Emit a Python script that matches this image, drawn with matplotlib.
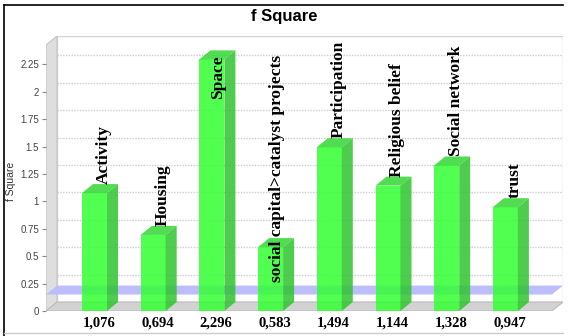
import matplotlib
matplotlib.use("Agg")
import matplotlib.pyplot as plt
from matplotlib.patches import Polygon, Rectangle
from matplotlib.lines import Line2D
import numpy as np

# ---- data ----
categories = ["Activity", "Housing", "Space", "social capital>catalyst projects",
              "Participation", "Religious belief", "Social network", "trust"]
f_square = [1.076, 0.694, 2.296, 0.583, 1.494, 1.144, 1.328, 0.947]
value_labels = ["1,076", "0,694", "2,296", "0,583", "1,494", "1,144", "1,328", "0,947"]
y_ticks = [0, 0.25, 0.5, 0.75, 1, 1.25, 1.5, 1.75, 2, 2.25]
y_tick_labels = ["0", "0.25", "0.5", "0.75", "1", "1.25", "1.5", "1.75", "2", "2.25"]
effect_marker = 0.15

W, H = 568, 336
fig = plt.figure(figsize=(W / 100, H / 100), dpi=100)
fig.patch.set_facecolor("white")

# plot box in pixels (front-left edge to back-right edge)
left_px, right_px, top_px, bottom_px = 46, 563, 36, 311
px_per_x = 58.7
px_per_y = 109.6
x_first_px = 94.5

ax = fig.add_axes([left_px / W, 1 - bottom_px / H,
                   (right_px - left_px) / W, (bottom_px - top_px) / H])
x0 = (left_px - x_first_px) / px_per_x
x1 = (right_px - x_first_px) / px_per_x
y1 = (bottom_px - top_px) / px_per_y
ax.set_xlim(x0, x1)
ax.set_ylim(0, y1)

# 3D depth offsets in data units
DX = 11 / px_per_x
DY = 9 / px_per_y
x1f = x1 - DX
y1f = y1 - DY

# walls
ax.add_patch(Polygon([(x0, 0), (x0, y1f), (x0 + DX, y1), (x0 + DX, DY)],
                     closed=True, facecolor="#dedede", edgecolor="#c4c4c4", lw=0.8, zorder=1))
ax.add_patch(Polygon([(x0, 0), (x1f, 0), (x1, DY), (x0 + DX, DY)],
                     closed=True, facecolor="#d2d2d2", edgecolor="#bcbcbc", lw=0.8, zorder=1))
ax.add_patch(Rectangle((x0 + DX, DY), x1 - x0 - DX, y1 - DY,
                       facecolor="white", edgecolor="#d4d4d4", lw=1.0, zorder=0.5))

# grid lines on the back wall
for v in y_ticks[1:]:
    ax.plot([x0 + DX, x1], [v + DY, v + DY], color="#cccccc", lw=1.0,
            linestyle=(0, (1, 1)), zorder=1.2)

# effect-size marker plane
ax.add_patch(Polygon([(x0, effect_marker), (x1f, effect_marker),
                      (x1, effect_marker + DY), (x0 + DX, effect_marker + DY)],
                     closed=True, facecolor="#bdbdfc", edgecolor="none", zorder=1.5))

# 3D bars
bw = 25 / px_per_x
alpha = 0.85
for i, v in enumerate(f_square):
    l, r = i - bw / 2, i + bw / 2
    ax.add_patch(Rectangle((l, 0), bw, v, facecolor="#33ff33", edgecolor="none",
                           alpha=alpha, zorder=3))
    ax.add_patch(Polygon([(r, 0), (r, v), (r + DX, v + DY), (r + DX, DY)], closed=True,
                         facecolor="#2fc42f", edgecolor="none", alpha=alpha, zorder=3))
    ax.add_patch(Polygon([(l, v), (r, v), (r + DX, v + DY), (l + DX, v + DY)], closed=True,
                         facecolor="#33d633", edgecolor="none", alpha=alpha, zorder=3))

# axes styling
for s in ax.spines.values():
    s.set_visible(False)
ax.set_xticks([])
ax.set_yticks(y_ticks)
ax.set_yticklabels(y_tick_labels)
ax.tick_params(axis="y", direction="out", length=3, width=0.8, color="#888888",
               labelsize=7, labelcolor="#444444", pad=2)
for t in ax.get_yticklabels():
    t.set_fontfamily("Liberation Sans")
ax.set_ylabel("f Square", fontsize=7.5, color="#333333", fontfamily="Liberation Sans")
ax.yaxis.set_label_coords(-0.058, 0.47)

# category value labels under the floor
for i, lbl in enumerate(value_labels):
    ax.annotate(lbl, (i, 0), xytext=(3, -4), textcoords="offset points",
                ha="center", va="top", fontsize=10.5, fontweight="bold",
                fontfamily="Liberation Serif", annotation_clip=False, zorder=5)

# rotated category names above the bars (inside the bar when they do not fit)
fig.canvas.draw()
renderer = fig.canvas.get_renderer()
top_limit_px = fig.bbox.height - top_px  # display coords, origin bottom
inside_top = (bottom_px - 55) / px_per_y
name_size = 12.5
for i, (name, v) in enumerate(zip(categories, f_square)):
    t = ax.annotate(name, (i, v + DY), xytext=(6.5, 0), textcoords="offset points",
                    rotation=90, ha="center", va="bottom", fontsize=name_size,
                    fontweight="bold", fontfamily="Liberation Serif",
                    annotation_clip=False, zorder=6)
    bb = t.get_window_extent(renderer)
    if bb.y1 > top_limit_px:
        t.remove()
        ax.annotate(name, (i, inside_top), xytext=(4.5, 0), textcoords="offset points",
                    rotation=90, ha="center", va="top", fontsize=name_size,
                    fontweight="bold", fontfamily="Liberation Serif",
                    annotation_clip=False, zorder=6)

# title
fig.text(0.5, 1 - 17 / H, "f Square", ha="center", va="center",
         fontsize=12, fontweight="bold", fontfamily="Liberation Sans")

# frame lines
fig.add_artist(Line2D([4 / W, 563 / W], [1 - 5 / H, 1 - 5 / H], color="black",
                      lw=1.2, transform=fig.transFigure))
fig.add_artist(Line2D([4 / W, 4 / W], [1 - 5 / H, 0], color="black",
                      lw=1.2, transform=fig.transFigure))
fig.add_artist(Line2D([4 / W, 563 / W], [1 - 333 / H, 1 - 333 / H], color="#cccccc",
                      lw=1.0, transform=fig.transFigure))

fig.savefig("out.png", dpi=100)
